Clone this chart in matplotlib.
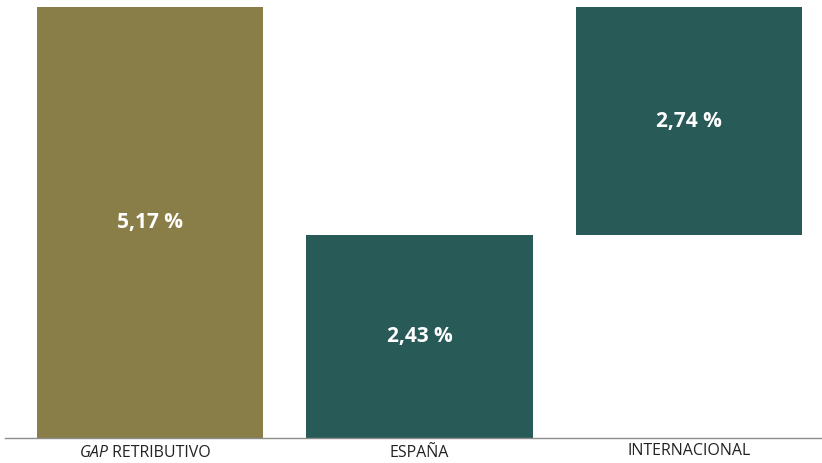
import matplotlib
matplotlib.use("Agg")
import matplotlib.pyplot as plt

categories = ["GAP RETRIBUTIVO", "ESPAÑA", "INTERNACIONAL"]
values = [5.17, 2.43, 2.74]
bases = [0.0, 0.0, 2.43]
labels = ["5,17 %", "2,43 %", "2,74 %"]
colors = ["#8A7E48", "#285A58", "#285A58"]

fig = plt.figure(figsize=(8.22, 4.63), dpi=100)
ax = fig.add_axes([5/822, 25/463, 817/822, 431/463])

x = list(range(len(categories)))
ax.bar(x, values, bottom=bases, width=0.84, color=colors)
for xi, v, b, lab in zip(x, values, bases, labels):
    ax.text(xi, b + v / 2, lab, ha="center", va="center", color="white",
            fontsize=15, fontweight="bold", family=["Open Sans", "DejaVu Sans"])

ax.set_xlim(-0.538, 2.494)
ax.set_ylim(0, 5.17)
for s in ["top", "right", "left"]:
    ax.spines[s].set_visible(False)
ax.spines["bottom"].set_color("#8c8c8c")
ax.spines["bottom"].set_linewidth(1.0)
ax.set_yticks([])
ax.set_xticks(x)
ax.set_xticklabels([])
ax.tick_params(axis="x", length=0)

fam = ["Open Sans", "DejaVu Sans"]
fs = 11.5
# first label with italic GAP
ax.annotate("GAP", xy=(0, 0), xycoords=("data", "axes fraction"), xytext=(-30, -11),
            textcoords="offset points", ha="right", va="center", fontsize=fs,
            style="italic", family=fam, color="#222222")
ax.annotate(" RETRIBUTIVO", xy=(0, 0), xycoords=("data", "axes fraction"), xytext=(-30, -11),
            textcoords="offset points", ha="left", va="center", fontsize=fs,
            family=fam, color="#222222")
for xi, c in zip(x[1:], categories[1:]):
    ax.annotate(c, xy=(xi, 0), xycoords=("data", "axes fraction"),
                xytext=(0, -11 if c != "INTERNACIONAL" else -9.5),
                textcoords="offset points", ha="center", va="center", fontsize=fs,
                family=fam, color="#222222")

fig.savefig("out.png", dpi=100)
